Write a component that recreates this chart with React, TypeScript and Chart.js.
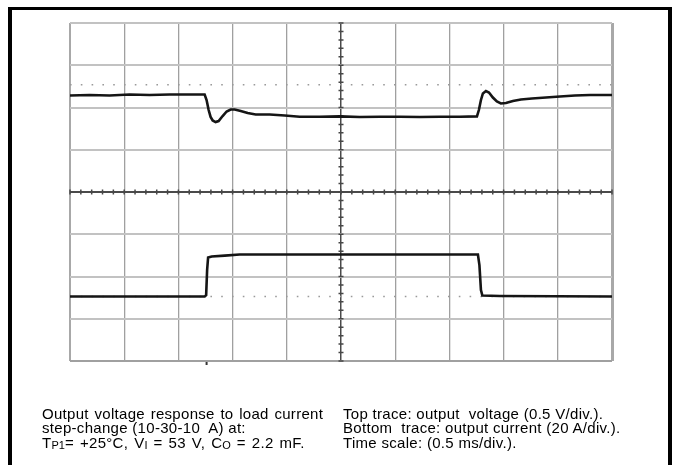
import React, { useEffect, useRef } from "react";
import { Chart, registerables } from "chart.js";

Chart.register(...registerables);

// ---- Data ----
// Time axis: 0.5 ms/div, 10 divisions
const timeMinMs = 0;
const timeMaxMs = 5;
const timeDivMs = 0.5;

// Top trace: output voltage (0.5 V/div, screen-centred offset scale)
const voltageTimeMs = [
  0, 0.18, 0.365, 0.549, 0.734, 0.919, 1.103, 1.242, 1.26, 1.279, 1.297, 1.316, 1.343, 1.371,
  1.408, 1.445, 1.482, 1.519, 1.575, 1.639, 1.713, 1.842, 1.981, 2.119, 2.304, 2.489, 2.673,
  2.858, 3.043, 3.227, 3.412, 3.597, 3.754, 3.772, 3.791, 3.809, 3.837, 3.865, 3.901, 3.938,
  3.975, 4.021, 4.086, 4.16, 4.261, 4.391, 4.52, 4.658, 4.797, 5.0,
];
const voltageV = [
  1.142, 1.148, 1.142, 1.154, 1.148, 1.154, 1.154, 1.154, 1.089, 0.97, 0.888, 0.846, 0.828, 0.84,
  0.899, 0.953, 0.976, 0.976, 0.959, 0.935, 0.917, 0.917, 0.905, 0.891, 0.891, 0.895, 0.888,
  0.891, 0.891, 0.888, 0.891, 0.891, 0.895, 0.97, 1.089, 1.166, 1.195, 1.178, 1.118, 1.071,
  1.047, 1.053, 1.077, 1.095, 1.107, 1.118, 1.13, 1.142, 1.148, 1.148,
];
const voltageMinV = -2;
const voltageMaxV = 2;
const voltageRefLevelV = 1.27;

// Bottom trace: output current (20 A/div)
const currentTimeMs = [
  0, 1.242, 1.256, 1.265, 1.274, 1.307, 1.427, 1.565, 2.5, 3.763, 3.777, 3.791, 3.804, 3.966, 5.0,
];
const currentA = [
  10.5, 10.5, 11.2, 23.1, 29.0, 29.5, 29.9, 30.4, 30.4, 30.4, 25.4, 13.6, 11.0, 10.8, 10.5,
];
const currentMinA = -20;
const currentMaxA = 140;
const currentDivA = 20;
const currentRefLevelA = 10.5;

const triggerTimeMs = 1.26;
const minorPerDiv = 5;

const captionLeft = [
  "Output voltage response to load current",
  "step-change (10-30-10  A) at:",
];
const captionRight = [
  "Top trace: output  voltage (0.5 V/div.).",
  "Bottom  trace: output current (20 A/div.).",
  "Time scale: (0.5 ms/div.).",
];

const near = (a: number, b: number) => Math.abs(a - b) < 1e-6;

const scopeMarks = {
  id: "scopeMarks",
  beforeDatasetsDraw(chart: any) {
    const { ctx, scales } = chart;
    const xs = scales.x;
    const ys = scales.yI;
    const cx = xs.getPixelForValue((timeMinMs + timeMaxMs) / 2);
    const cy = ys.getPixelForValue((currentMinA + currentMaxA) / 2);
    const xCount = ((timeMaxMs - timeMinMs) / timeDivMs) * minorPerDiv;
    const yCount = ((currentMaxA - currentMinA) / currentDivA) * minorPerDiv;
    ctx.save();
    ctx.strokeStyle = "#474747";
    ctx.lineWidth = 1.5;
    ctx.beginPath();
    for (let k = 0; k <= xCount; k++) {
      const px = xs.getPixelForValue(timeMinMs + (k * (timeMaxMs - timeMinMs)) / xCount);
      ctx.moveTo(px, cy - 2.5);
      ctx.lineTo(px, cy + 2.5);
    }
    for (let k = 0; k <= yCount; k++) {
      const py = ys.getPixelForValue(currentMinA + (k * (currentMaxA - currentMinA)) / yCount);
      ctx.moveTo(cx - 2.5, py);
      ctx.lineTo(cx + 2.5, py);
    }
    ctx.stroke();
    // trigger marker below the screen
    const tx = xs.getPixelForValue(triggerTimeMs);
    const bottom = chart.chartArea.bottom;
    ctx.fillStyle = "#333";
    ctx.fillRect(tx - 1, bottom + 1, 2, 3);
    ctx.restore();
  },
};

export default function App() {
  const canvasRef = useRef<HTMLCanvasElement | null>(null);

  useEffect(() => {
    document.body.style.margin = "0";
    const canvas = canvasRef.current;
    if (!canvas) return;
    const voltagePts = voltageTimeMs.map((t, i) => ({ x: t, y: voltageV[i] }));
    const currentPts = currentTimeMs.map((t, i) => ({ x: t, y: currentA[i] }));
    const vRef = [
      { x: timeMinMs, y: voltageRefLevelV },
      { x: timeMaxMs, y: voltageRefLevelV },
    ];
    const iRef = [
      { x: timeMinMs, y: currentRefLevelA },
      { x: timeMaxMs, y: currentRefLevelA },
    ];
    const dotted = [1.6, 9.2];
    const chart = new Chart(canvas, {
      type: "line",
      data: {
        datasets: [
          {
            label: "Output voltage",
            data: voltagePts,
            yAxisID: "yV",
            borderColor: "#151515",
            borderWidth: 2.6,
            pointRadius: 0,
            tension: 0,
            order: 1,
          },
          {
            label: "Output current",
            data: currentPts,
            yAxisID: "yI",
            borderColor: "#151515",
            borderWidth: 2.6,
            pointRadius: 0,
            tension: 0,
            order: 1,
          },
          {
            label: "Voltage reference",
            data: vRef,
            yAxisID: "yV",
            borderColor: "#9a9a9a",
            borderWidth: 1.6,
            borderDash: dotted,
            pointRadius: 0,
            order: 5,
          },
          {
            label: "Current reference",
            data: iRef,
            yAxisID: "yI",
            borderColor: "#9a9a9a",
            borderWidth: 1.6,
            borderDash: dotted,
            pointRadius: 0,
            order: 5,
          },
        ],
      },
      options: {
        animation: false,
        responsive: false,
        devicePixelRatio: 1,
        layout: { padding: { left: 70, top: 23, right: 64, bottom: 104 } },
        plugins: { legend: { display: false }, tooltip: { enabled: false } },
        scales: {
          x: {
            type: "linear",
            min: timeMinMs,
            max: timeMaxMs,
            ticks: { stepSize: timeDivMs, display: false },
            border: { display: false },
            grid: {
              drawTicks: false,
              color: (c: any) => {
                const v = c.tick?.value;
                if (near(v, (timeMinMs + timeMaxMs) / 2)) return "#4a4a4a";
                if (near(v, timeMinMs) || near(v, timeMaxMs)) return "#a8a8a8";
                return "#a0a0a0";
              },
              lineWidth: (c: any) => {
                const v = c.tick?.value;
                if (near(v, (timeMinMs + timeMaxMs) / 2)) return 1.5;
                if (near(v, timeMaxMs)) return 3;
                if (near(v, timeMinMs)) return 2;
                return 1.3;
              },
            },
          },
          yI: {
            type: "linear",
            position: "left",
            min: currentMinA,
            max: currentMaxA,
            ticks: { stepSize: currentDivA, display: false },
            border: { display: false },
            grid: {
              drawTicks: false,
              color: (c: any) => {
                const v = c.tick?.value;
                if (near(v, (currentMinA + currentMaxA) / 2)) return "#4a4a4a";
                if (near(v, currentMinA)) return "#a0a0a0";
                return "#c2c2c2";
              },
              lineWidth: 2,
            },
          },
          yV: {
            type: "linear",
            display: false,
            min: voltageMinV,
            max: voltageMaxV,
          },
        },
      },
      plugins: [scopeMarks],
    });
    return () => chart.destroy();
  }, []);

  const textStyle: React.CSSProperties = {
    position: "absolute",
    fontFamily: '"Liberation Sans", Arial, sans-serif',
    fontSize: 15,
    lineHeight: "14.5px",
    letterSpacing: "0.3px",
    color: "#000",
    whiteSpace: "pre",
  };
  const sub: React.CSSProperties = { fontSize: 11, verticalAlign: "-1px", letterSpacing: 0 };

  return (
    <div
      style={{
        position: "absolute",
        left: 0,
        top: 0,
        width: 676,
        height: 465,
        background: "#fff",
        overflow: "hidden",
      }}
    >
      <canvas ref={canvasRef} width={676} height={465} style={{ display: "block" }} />
      <div style={{ position: "absolute", left: 8, top: 7, width: 4, height: 458, background: "#000" }} />
      <div style={{ position: "absolute", left: 8, top: 7, width: 664, height: 3, background: "#000" }} />
      <div style={{ position: "absolute", left: 668, top: 7, width: 4, height: 458, background: "#000" }} />
      <div style={{ ...textStyle, left: 42, top: 406.5 }}>
        <div style={{ wordSpacing: "1.2px" }}>{captionLeft[0]}</div>
        <div>{captionLeft[1]}</div>
        <div style={{ wordSpacing: "1.5px" }}>
          T<span style={sub}>P1</span>= +25°C, V<span style={sub}>I</span> = 53 V, C
          <span style={sub}>O</span> = 2.2 mF.
        </div>
      </div>
      <div style={{ ...textStyle, left: 343, top: 406.5 }}>
        <div>{captionRight[0]}</div>
        <div>{captionRight[1]}</div>
        <div>{captionRight[2]}</div>
      </div>
    </div>
  );
}
